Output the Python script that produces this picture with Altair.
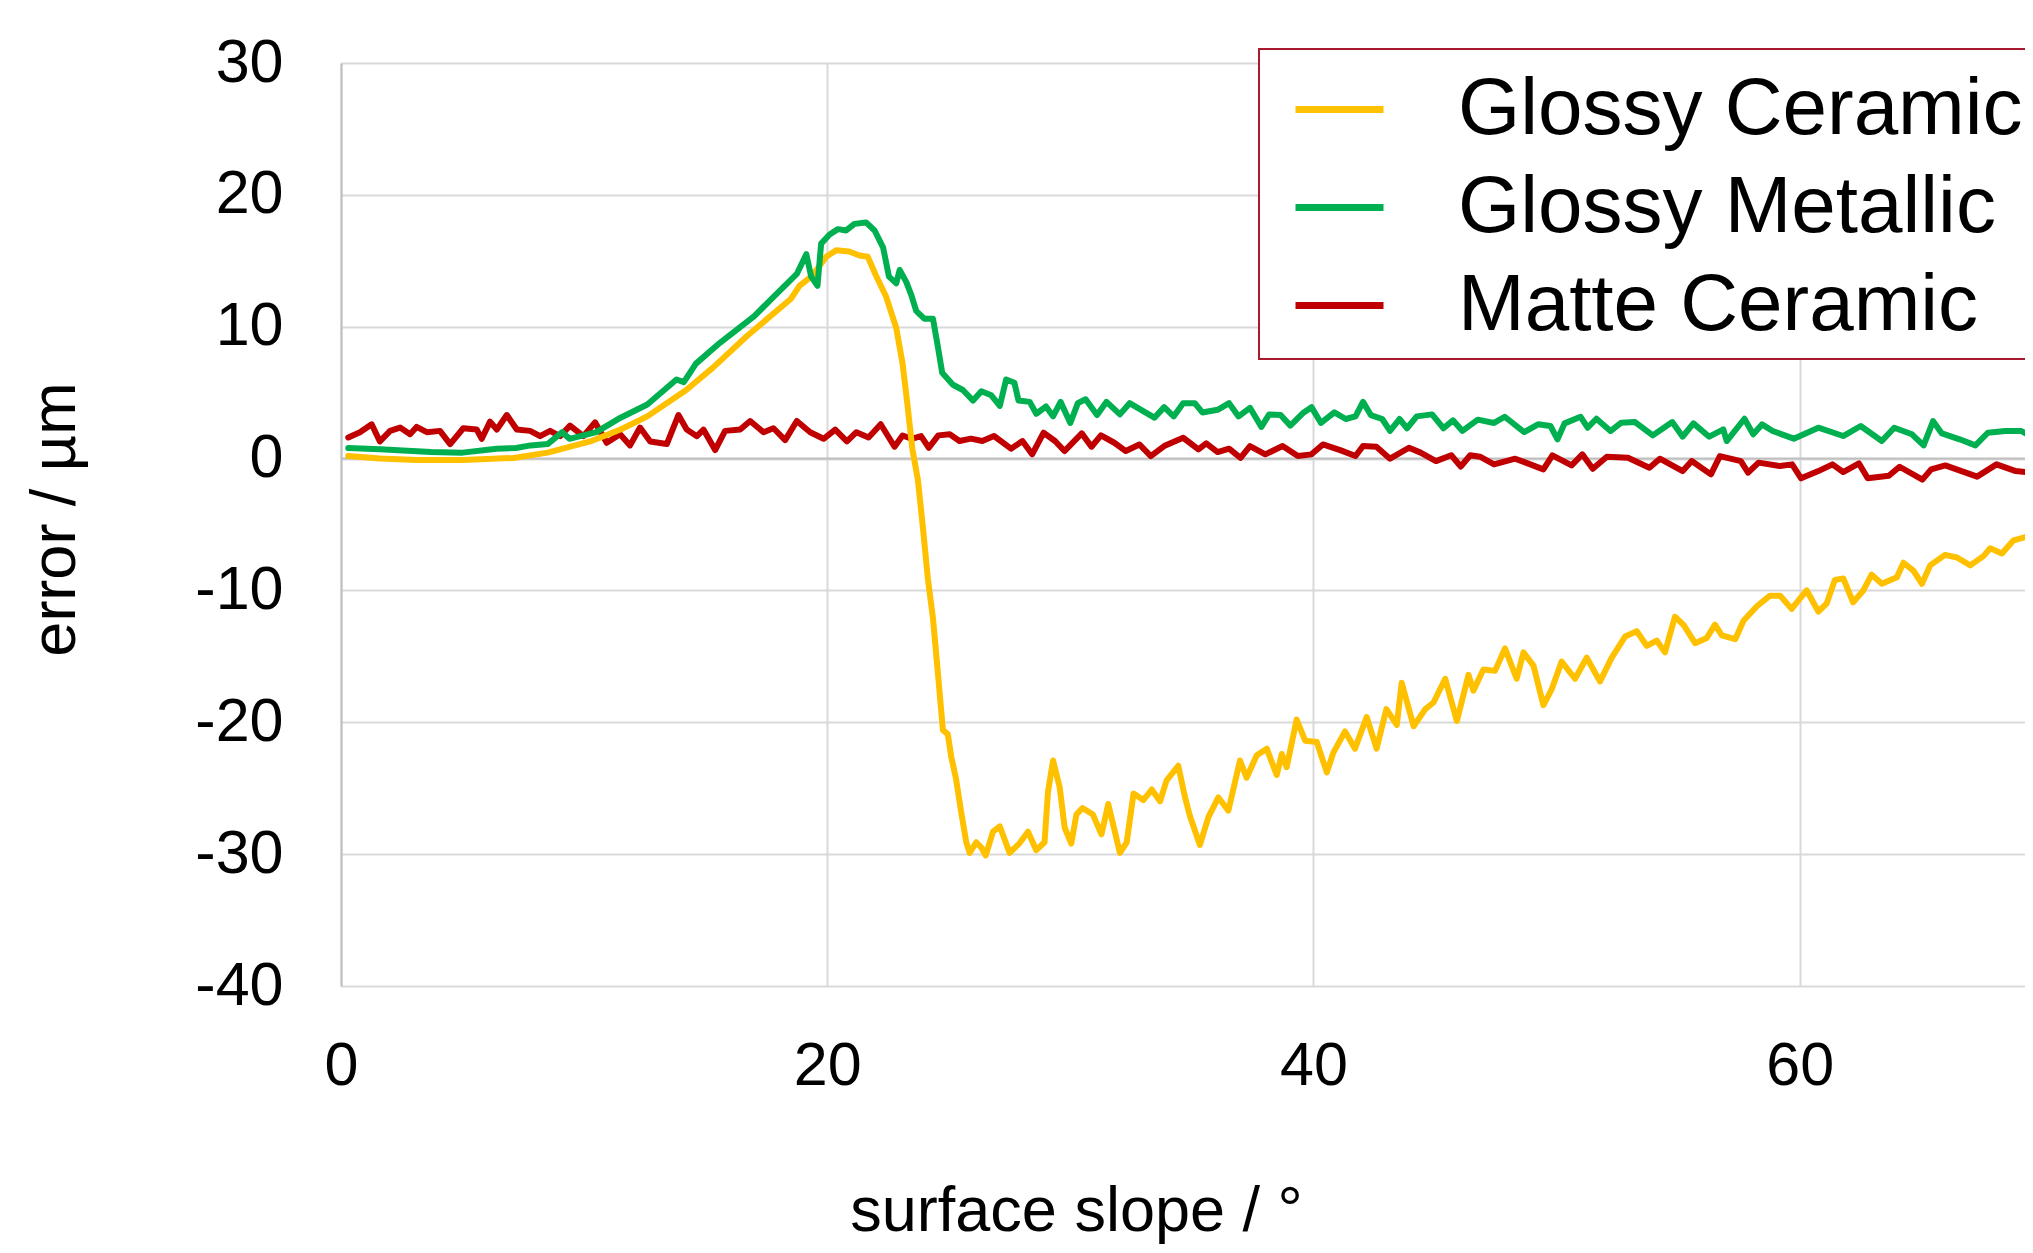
import altair as alt
import pandas as pd

# ---- data ----
gc_x = [0.3, 1.6, 3.1, 5.0, 7.1, 8.5, 10.25, 11.5, 12.6, 14.2, 15.3, 16.7, 18.5, 18.86, 19.4, 19.96,
        20.37, 20.9, 21.33, 21.67, 22.0, 22.43, 22.84, 23.1, 23.3, 23.5, 23.73, 23.94, 24.14, 24.35,
        24.55, 24.76, 24.96, 25.1, 25.3, 25.5, 25.72, 25.86, 26.13, 26.34, 26.52, 26.82, 27.1, 27.5,
        27.9, 28.26, 28.6, 28.94, 29.08, 29.29, 29.56, 29.77, 30.04, 30.25, 30.5, 30.93, 31.28, 31.56,
        32.04, 32.32, 32.6, 33.0, 33.35, 33.69, 33.96, 34.44, 34.72, 34.92, 35.33, 35.68, 36.09, 36.5,
        36.98, 37.25, 37.67, 38.08, 38.49, 38.7, 38.9, 39.31, 39.66, 40.14, 40.55, 40.82, 41.3, 41.71,
        42.19, 42.6, 43.0, 43.43, 43.63, 44.12, 44.6, 44.94, 45.42, 45.9, 46.38, 46.58, 46.99, 47.47,
        47.88, 48.36, 48.64, 49.05, 49.46, 49.8, 50.21, 50.76, 51.24, 51.79, 52.27, 52.82, 53.3, 53.71,
        54.12, 54.46, 54.87, 55.22, 55.7, 56.18, 56.52, 56.8, 57.35, 57.69, 58.24, 58.78, 59.2, 59.67,
        60.29, 60.77, 61.11, 61.45, 61.8, 62.2, 62.62, 62.96, 63.38, 64.0, 64.27, 64.68, 65.03, 65.37,
        65.98, 66.47, 67.02, 67.56, 67.84, 68.32, 68.8, 69.21, 69.6, 70.0]
gc_y = [0.2, 0.0, -0.1, -0.1, 0.05, 0.45, 1.3, 2.2, 3.2, 5.2, 6.9, 9.3, 12.1, 13.1, 13.9, 15.3,
        15.8, 15.7, 15.4, 15.3, 13.9, 12.25, 9.9, 7.2, 4.1, 0.75, -1.6, -5.3, -9.1, -12.1,
        -16.2, -20.6, -20.9, -22.6, -24.3, -26.7, -29.1, -29.9, -29.1, -29.5, -30.1, -28.3, -27.9, -29.9,
        -29.2, -28.3, -29.7, -29.1, -25.3, -22.9, -24.9, -28.0, -29.2, -27.0, -26.5, -27.0, -28.5, -26.2,
        -29.9, -29.1, -25.4, -25.9, -25.1, -26.0, -24.4, -23.3, -25.7, -27.1, -29.3, -27.2, -25.7, -26.7,
        -22.9, -24.2, -22.5, -22.0, -24.0, -22.4, -23.4, -19.8, -21.4, -21.5, -23.8, -22.3, -20.7, -22.0,
        -19.6, -22.0, -19.0, -20.2, -17.0, -20.3, -19.0, -18.5, -16.7, -19.9, -16.4, -17.6, -16.0, -16.1,
        -14.4, -16.7, -14.7, -15.7, -18.7, -17.5, -15.4, -16.7, -15.1, -16.9, -15.1, -13.5, -13.1, -14.2,
        -13.8, -14.7, -12.0, -12.6, -14.0, -13.6, -12.6, -13.4, -13.7, -12.3, -11.2, -10.4, -10.4, -11.4,
        -10.0, -11.6, -11.0, -9.2, -9.1, -10.9, -10.0, -8.8, -9.5, -9.0, -7.9, -8.5, -9.5, -8.1,
        -7.3, -7.5, -8.1, -7.4, -6.8, -7.2, -6.2, -6.0, -5.75, -5.6]

gm_x = [0.3, 1.6, 3.7, 5.0, 6.4, 7.2, 7.8, 8.5, 9.1, 9.4, 10.5, 11.5, 12.6, 13.8, 14.1, 14.6, 15.6,
        17.0, 17.7, 18.75, 19.14, 19.34, 19.6, 19.75, 20.1, 20.44, 20.78, 21.12, 21.6, 21.95, 22.3,
        22.54, 22.84, 22.98, 23.25, 23.46, 23.66, 24.0, 24.35, 24.55, 24.73, 25.17, 25.58, 26.0, 26.34,
        26.75, 27.1, 27.36, 27.7, 27.87, 28.33, 28.6, 29.0, 29.29, 29.6, 30.0, 30.31, 30.63, 31.1,
        31.49, 32.04, 32.44, 32.91, 33.46, 33.86, 34.25, 34.64, 35.12, 35.43, 36.06, 36.53, 36.92,
        37.39, 37.86, 38.18, 38.65, 39.05, 39.6, 39.92, 40.31, 40.86, 41.33, 41.73, 42.04, 42.36,
        42.83, 43.15, 43.54, 43.85, 44.25, 44.88, 45.35, 45.74, 46.13, 46.76, 47.43, 47.87, 48.67,
        49.24, 49.75, 50.04, 50.33, 50.99, 51.28, 51.64, 52.22, 52.66, 53.23, 53.96, 54.76, 55.19,
        55.63, 56.28, 56.86, 57.0, 57.73, 58.09, 58.45, 58.89, 59.76, 60.77, 61.79, 62.51, 63.38,
        63.89, 64.62, 65.1, 65.49, 65.85, 66.58, 67.23, 67.74, 68.46, 69.12, 69.6, 70.0]
gm_y = [0.8, 0.7, 0.5, 0.45, 0.75, 0.8, 1.0, 1.1, 2.0, 1.5, 2.0, 3.1, 4.1, 6.0, 5.8, 7.2, 8.8,
        10.8, 12.1, 14.0, 15.5, 13.8, 13.1, 16.3, 17.0, 17.4, 17.3, 17.8, 17.9, 17.3, 16.0,
        13.8, 13.3, 14.3, 13.4, 12.4, 11.2, 10.6, 10.6, 8.5, 6.5, 5.6, 5.2, 4.4, 5.1,
        4.8, 4.0, 6.0, 5.75, 4.4, 4.3, 3.4, 3.95, 3.2, 4.3, 2.7, 4.2, 4.5, 3.3,
        4.3, 3.35, 4.2, 3.7, 3.1, 3.9, 3.2, 4.2, 4.2, 3.5, 3.7, 4.2, 3.2,
        3.85, 2.4, 3.35, 3.3, 2.5, 3.5, 3.9, 2.7, 3.5, 3.0, 3.2, 4.3, 3.3,
        3.0, 2.1, 3.0, 2.3, 3.2, 3.35, 2.3, 2.9, 2.1, 2.95, 2.7, 3.17, 2.0,
        2.6, 2.47, 1.46, 2.67, 3.17, 2.34, 3.02, 2.09, 2.72, 2.77, 1.76, 2.77, 1.66,
        2.67, 1.66, 2.22, 1.33, 3.02, 1.84, 2.59, 2.09, 1.51, 2.34, 1.71, 2.47, 1.33,
        2.34, 1.84, 1.0, 2.84, 1.91, 1.46, 1.0, 1.96, 2.09, 2.09, 1.58, 1.6]

mc_x = [0.3, 0.78, 1.26, 1.6, 2.02, 2.43, 2.84, 3.11, 3.53, 4.07, 4.49, 5.03, 5.58, 5.79, 6.13, 6.41,
        6.82, 7.23, 7.78, 8.19, 8.6, 9.01, 9.42, 9.97, 10.45, 10.93, 11.48, 11.89, 12.3, 12.72, 13.4,
        13.88, 14.22, 14.64, 14.91, 15.39, 15.8, 16.42, 16.83, 17.38, 17.79, 18.27, 18.75, 19.3, 19.85,
        20.33, 20.81, 21.2, 21.7, 22.2, 22.77, 23.1, 23.47, 23.86, 24.18, 24.57, 25.04, 25.44, 25.91,
        26.38, 26.86, 27.56, 28.03, 28.43, 28.9, 29.37, 29.76, 30.47, 30.87, 31.26, 31.81, 32.28, 32.84,
        33.31, 33.86, 34.64, 35.27, 35.59, 36.06, 36.53, 37.0, 37.39, 38.02, 38.73, 39.36, 39.92, 40.39,
        41.1, 41.73, 42.04, 42.59, 43.15, 43.93, 44.41, 45.04, 45.67, 46.06, 46.45, 46.85, 47.43, 48.3,
        49.46, 49.83, 50.62, 51.06, 51.49, 52.07, 52.94, 53.82, 54.25, 55.19, 55.56, 56.35, 56.72, 57.58,
        57.88, 58.31, 59.18, 59.69, 60.06, 60.77, 61.35, 61.79, 62.44, 62.8, 63.67, 64.11, 65.05, 65.41,
        65.99, 67.3, 68.1, 68.89, 69.6, 70.0]
mc_y = [1.6, 2.0, 2.6, 1.3, 2.1, 2.35, 1.85, 2.4, 2.0, 2.1, 1.1, 2.3, 2.2, 1.5, 2.8, 2.2,
        3.3, 2.2, 2.1, 1.7, 2.1, 1.7, 2.5, 1.7, 2.75, 1.2, 1.85, 1.0, 2.35, 1.3, 1.1,
        3.3, 2.2, 1.7, 2.2, 0.65, 2.1, 2.2, 2.85, 2.0, 2.3, 1.4, 2.85, 2.0, 1.5,
        2.2, 1.3, 2.0, 1.6, 2.6, 0.9, 1.75, 1.5, 1.7, 0.82, 1.76, 1.84, 1.33, 1.51,
        1.33, 1.71, 0.75, 1.33, 0.32, 1.96, 1.33, 0.57, 1.91, 0.9, 1.76, 1.2, 0.57, 1.07,
        0.19, 0.95, 1.58, 0.7, 1.15, 0.49, 0.75, 0.06, 0.95, 0.32, 0.95, 0.19, 0.32, 1.07,
        0.64, 0.19, 0.95, 0.9, -0.01, 0.82, 0.45, -0.19, 0.25, -0.6, 0.25, 0.14, -0.44, -0.01,
        -0.82, 0.24, -0.52, 0.32, -0.77, 0.14, 0.06, -0.69, -0.01, -0.95, -0.19, -1.2, 0.19, -0.19,
        -1.07, -0.31, -0.57, -0.44, -1.5, -0.95, -0.44, -1.02, -0.37, -1.5, -1.3, -0.62, -1.6, -0.82,
        -0.52, -1.37, -0.44, -0.95, -1.07, -1.0]

series_names = ["Glossy Ceramic", "Glossy Metallic", "Matte Ceramic"]
series_colors = ["#FFC000", "#00B050", "#C00000"]
x_ticks = [0, 20, 40, 60]
y_ticks = [-40, -30, -20, -10, 0, 10, 20, 30]

frames = []
for name, xs, ys in zip(series_names, [gc_x, gm_x, mc_x], [gc_y, gm_y, mc_y]):
    frames.append(pd.DataFrame({"slope": xs, "error": ys, "series": name}))
df = pd.concat(frames, ignore_index=True)

FONT = "Liberation Sans"
PLOT_W = 1684
PLOT_H = 923

x_enc = alt.X("slope:Q",
              scale=alt.Scale(domain=[0, 69.27], nice=False, zero=False),
              axis=alt.Axis(values=x_ticks, title="surface slope / °", grid=True,
                            gridColor="#D9D9D9", gridWidth=2, domain=False, ticks=False,
                            labelFlush=False,
                            labelFontSize=61, labelPadding=50, labelFont=FONT, labelColor="black",
                            titleFont=FONT, titleFontSize=63, titleFontWeight="normal",
                            titleColor="black", titleX=735, titleY=244,
                            titleBaseline="alphabetic", titleAlign="center"))
y_enc = alt.Y("error:Q",
              scale=alt.Scale(domain=[-40, 30], nice=False, zero=False),
              axis=alt.Axis(values=y_ticks, title="error / µm", grid=True,
                            gridColor="#D9D9D9", gridWidth=2, domain=True,
                            domainColor="#BFBFBF", domainWidth=2, ticks=False,
                            labelFlush=False,
                            labelFontSize=61, labelPadding=58, labelFont=FONT, labelColor="black",
                            labelExpr="toString(datum.value)",
                            titleFont=FONT, titleFontSize=63, titleFontWeight="normal",
                            titleColor="black", titleAngle=270, titleX=-286, titleY=456,
                            titleBaseline="middle", titleAlign="center"))
color_enc = alt.Color("series:N",
                      scale=alt.Scale(domain=series_names, range=series_colors),
                      legend=alt.Legend(orient="none", legendX=918, legendY=-14, title=None,
                                        symbolType="stroke", symbolSize=7744,
                                        symbolStrokeWidth=7, labelFontSize=80, labelFont=FONT,
                                        labelColor="black", labelOffset=71, symbolOffset=20,
                                        padding=13, rowPadding=10, strokeColor="#A6192E",
                                        fillColor="white", labelLimit=3000))

base = alt.Chart(df)

zero_rule = alt.Chart(pd.DataFrame({"error": [0]})).mark_rule(
    color="#BFBFBF", strokeWidth=2).encode(y="error:Q")

layers = [zero_rule]
for name in ["Matte Ceramic", "Glossy Ceramic", "Glossy Metallic"]:
    layers.append(
        base.transform_filter(alt.datum.series == name)
        .mark_line(strokeWidth=6, clip=True, strokeJoin="round", strokeCap="round")
        .encode(x=x_enc, y=y_enc, color=color_enc)
    )

chart = alt.layer(*layers).properties(
    width=PLOT_W, height=PLOT_H,
    autosize=alt.AutoSizeParams(type="none"),
    padding={"left": 333, "top": 55, "right": 0, "bottom": 259},
).configure_view(stroke=None).configure_legend(strokeWidth=2)

chart.save("out.html", embed_options={"renderer": "svg", "actions": False})
